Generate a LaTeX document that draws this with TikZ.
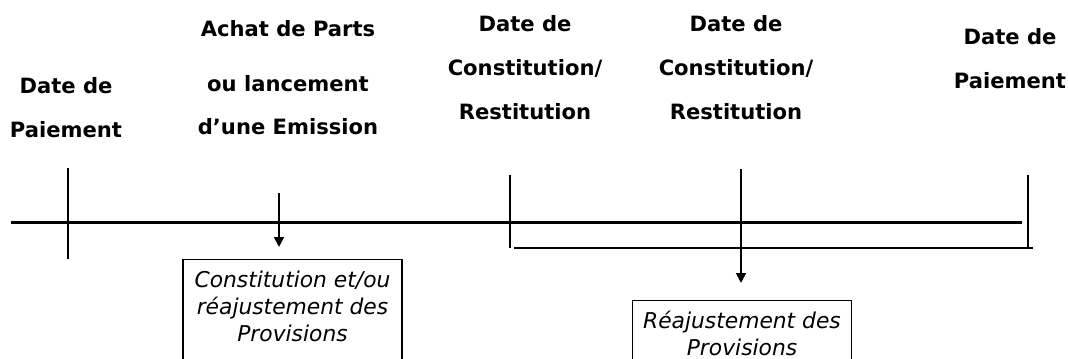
\documentclass[tikz,border=0pt]{standalone}
\usepackage{fontspec}
\setmainfont{DejaVu Sans}
\usetikzlibrary{arrows.meta,positioning,calc}

\begin{document}
\begin{tikzpicture}[
  x=0.025cm, y=-0.025cm,
  >={Triangle[length=7pt,width=7pt]},
  lbl/.style={font=\bfseries\fontsize{15}{31.5}\selectfont, align=center,
              anchor=base, inner sep=0pt},
  axis/.style={line width=1.8pt},
  arr/.style={->, line width=1.2pt},
  box/.style={draw, line width=0.8pt, anchor=north, align=center,
              font=\itshape\fontsize{15.5}{19.2}\selectfont,
              minimum width=5.475cm, inner xsep=0pt, inner ysep=7.5pt,
              text depth=2.5cm}
]
\path[use as bounding box, clip] (0,0) rectangle (1068,359);

% dates above the time line (placed at the baseline of the last line)
\node[lbl] (lpay)   at (66,138)  {Date de\\Paiement};
\node[lbl, font=\bfseries\fontsize{15}{30.6}\selectfont] (achat) at (288,135)
  {Achat de Parts\\[8.5pt]ou lancement\\d'une Emission};
\node[lbl] (const1) at (525,120) {Date de\\Constitution/\\Restitution};
\node[lbl] (const2) at (736,120) {Date de\\Constitution/\\Restitution};
\node[lbl] (rpay)   at (1010,89) {Date de\\Paiement};

% time line and ticks
\coordinate (ax0) at (11,222.7);   \coordinate (ax1) at (1022,222.7);
\coordinate (lo0) at (514,248);    \coordinate (lo1) at (1033,248);
\coordinate (t1a) at (68,168);     \coordinate (t1b) at (68,259);
\coordinate (t2a) at (510,175);    \coordinate (t2b) at (510,248);
\coordinate (t3a) at (1028,175);   \coordinate (t3b) at (1028,248);
\draw[axis] (ax0) -- (ax1);
\draw[axis] (lo0) -- (lo1);
\draw[axis] (t1a) -- (t1b);
\draw[axis] (t2a) -- (t2b);
\draw[axis] (t3a) -- (t3b);

% provisions
\node[box, text height=50.8pt] (prov1) at (292.5,259)
  {Constitution et/ou\\r\'eajustement des\\Provisions};
\node[box, text height=31.6pt] (prov2) at (742,300)
  {R\'eajustement des\\Provisions};

\coordinate (a1) at (279,193);
\coordinate (a2) at (741,169);
\draw[arr, shorten >=0.3cm]   (a1) -- (prov1.north -| a1);
\draw[arr, shorten >=0.425cm] (a2) -- (prov2.north -| a2);
\end{tikzpicture}
\end{document}
